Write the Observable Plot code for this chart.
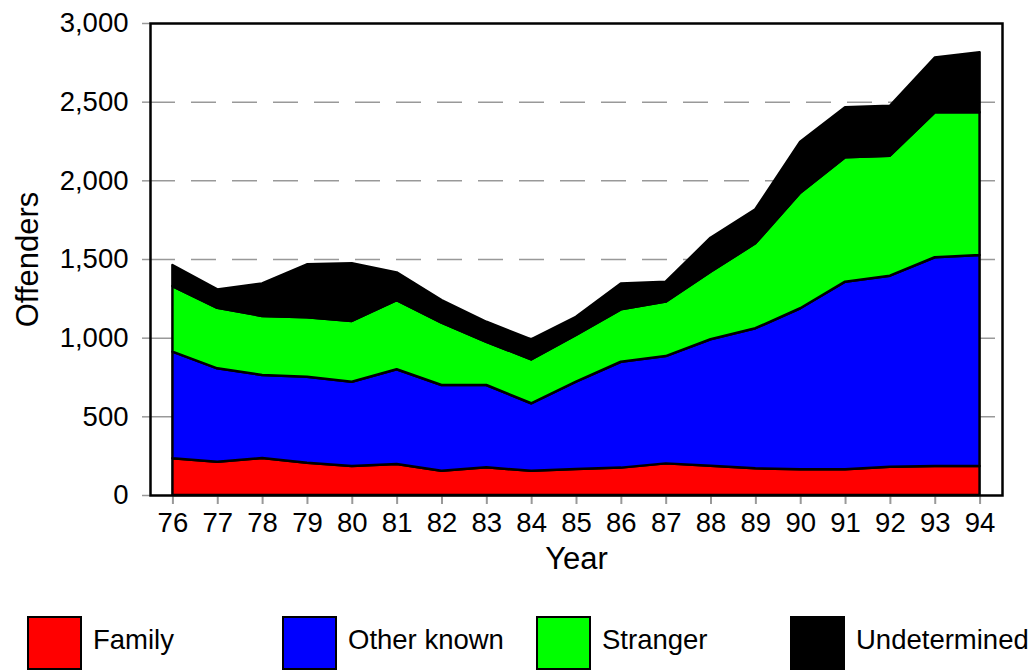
<!DOCTYPE html>
<html>
<head>
<meta charset="utf-8">
<script src="https://cdn.jsdelivr.net/npm/d3@7"></script>
<script src="https://cdn.jsdelivr.net/npm/@observablehq/plot@0.6"></script>
<style>
  html, body { margin: 0; padding: 0; background: #fff; }
  body { width: 1036px; height: 671px; overflow: hidden; font-family: "Liberation Sans", Arial, sans-serif; }
  #legend { position: relative; width: 1036px; height: 71px; }
  .sw { position: absolute; top: 16px; width: 55px; height: 54px; box-sizing: border-box; border: 2.5px solid #000; }
  .lb { position: absolute; top: 40px; transform: translateY(-50%); font-size: 27.5px; color: #000; white-space: nowrap; }
</style>
</head>
<body>
<div id="chart"></div>
<div id="legend"></div>
<script>
const years = [76, 77, 78, 79, 80, 81, 82, 83, 84, 85, 86, 87, 88, 89, 90, 91, 92, 93, 94];
const seriesNames = ["Family", "Other known", "Stranger", "Undetermined"];
const seriesColors = ["#ff0000", "#0000ff", "#00ff00", "#000000"];
const family       = [233, 212, 235, 205, 184, 197, 154, 176, 154, 165, 174, 201, 186, 170, 163, 163, 180, 184, 184];
const otherKnown   = [678, 593, 528, 547, 536, 602, 545, 523, 429, 555, 673, 682, 804, 890, 1024, 1193, 1214, 1327, 1341];
const stranger     = [417, 385, 375, 377, 386, 440, 396, 275, 279, 297, 333, 346, 429, 540, 734, 790, 763, 921, 907];
const undetermined = [134, 117, 207, 337, 367, 176, 144, 127, 127, 116, 165, 127, 216, 216, 325, 318, 317, 348, 382];
const yTicks = [0, 500, 1000, 1500, 2000, 2500, 3000];
const gridTicks = [500, 1000, 1500, 2000, 2500];

const seriesValues = [family, otherKnown, stranger, undetermined];
const table = [];
seriesNames.forEach((name, si) => {
  years.forEach((yr, i) => table.push({year: yr, series: name, value: seriesValues[si][i]}));
});

const plot = Plot.plot({
  width: 1036,
  height: 600,
  marginLeft: 150,
  marginRight: 34,
  marginTop: 23,
  marginBottom: 105,
  style: {fontFamily: "'Liberation Sans', Arial, sans-serif", background: "#fff", color: "#000"},
  x: {domain: [75.5, 94.5], label: null},
  y: {domain: [0, 3000], label: null},
  color: {domain: seriesNames, range: seriesColors},
  marks: [
    Plot.ruleY(gridTicks, {stroke: "#999", strokeWidth: 1.5, strokeDasharray: "25,16"}),
    Plot.areaY(table, {x: "year", y: "value", fill: "series", z: "series", stroke: "black", strokeWidth: 2.5}),
    Plot.axisX(years, {tickSize: 9, tickPadding: 8, stroke: "#999", strokeWidth: 2, fill: "black", fontSize: 27.5, tickFormat: d => String(d), label: null}),
    Plot.axisY(yTicks, {tickSize: 8, tickPadding: 14, stroke: "#999", strokeWidth: 1.5, fill: "black", fontSize: 27.5, tickFormat: d3.format(","), label: null}),
    Plot.text(["Year"], {text: d => d, frameAnchor: "bottom", lineAnchor: "middle", textAnchor: "middle", dy: 64, fontSize: 31, fill: "black"}),
    Plot.text(["Offenders"], {text: d => d, frameAnchor: "left", lineAnchor: "middle", textAnchor: "middle", dx: -122, rotate: -90, fontSize: 31, fill: "black"}),
    Plot.frame({stroke: "black", strokeWidth: 2.5})
  ]
});
document.getElementById("chart").appendChild(plot);

const legendPos = [27, 282, 536, 790];
const legend = document.getElementById("legend");
seriesNames.forEach((name, i) => {
  const sw = document.createElement("div");
  sw.className = "sw";
  sw.style.left = legendPos[i] + "px";
  sw.style.background = seriesColors[i];
  legend.appendChild(sw);
  const lb = document.createElement("div");
  lb.className = "lb";
  lb.style.left = (legendPos[i] + 66) + "px";
  lb.textContent = name;
  legend.appendChild(lb);
});
</script>
</body>
</html>
